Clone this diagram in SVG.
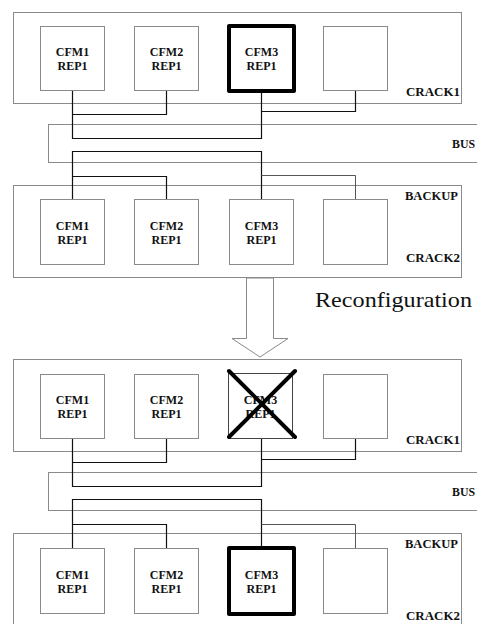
<svg xmlns="http://www.w3.org/2000/svg" width="477" height="624" viewBox="0 0 477 624">
<style>
.box{fill:#fff;stroke:#8a8a8a;stroke-width:1}
.rack{fill:none;stroke:#8a8a8a;stroke-width:1}
.thick{fill:#fff;stroke:#000;stroke-width:4;stroke-linejoin:round}
.t{font-family:"Liberation Serif",serif;font-weight:bold;font-size:12px;fill:#111;text-anchor:middle}
.lbl{font-family:"Liberation Serif",serif;font-weight:bold;font-size:12px;fill:#111}
.c{fill:none;stroke:#111;stroke-width:1.2}
.cg{fill:none;stroke:#555;stroke-width:1}
.x{stroke:#000;stroke-width:4;stroke-linecap:round}
</style>
<rect width="477" height="624" fill="#fff"/>

<!-- ===== Top configuration ===== -->
<g id="crack1-top">
  <rect class="rack" x="13.5" y="12.5" width="448" height="91"/>
  <text class="lbl" x="406" y="96" textLength="54" lengthAdjust="spacingAndGlyphs">CRACK1</text>
</g>
<g id="bus-top">
  <rect class="rack" x="48.5" y="124.5" width="440" height="38"/>
  <text class="lbl" x="452" y="148" textLength="23" lengthAdjust="spacingAndGlyphs">BUS</text>
</g>
<g id="crack2-top">
  <rect class="rack" x="13.5" y="185.5" width="448" height="92"/>
  <text class="lbl" x="405" y="200" textLength="53" lengthAdjust="spacingAndGlyphs">BACKUP</text>
  <text class="lbl" x="406" y="262" textLength="54" lengthAdjust="spacingAndGlyphs">CRACK2</text>
</g>

<g id="connectors-top">
  <path class="c" d="M72.5 91 V138.5 H261.5 V93"/>
  <path class="c" d="M72.5 114.5 H166.5 V91"/>
  <path class="c" d="M261.5 111.5 H355.5 V91"/>
  <path class="c" d="M72.5 199 V151.5 H261.5 V199"/>
  <path class="c" d="M72.5 176.5 H166.5 V199"/>
  <path class="cg" d="M261.5 175.5 H355.5 V199"/>
</g>

<g id="t-c1-cfm1"><rect class="box" x="40.5" y="26.5" width="64" height="64"/><text class="t" x="72.5" y="56">CFM1</text><text class="t" x="72.5" y="69.5">REP1</text></g>
<g id="t-c1-cfm2"><rect class="box" x="134.5" y="26.5" width="64" height="64"/><text class="t" x="166.5" y="56">CFM2</text><text class="t" x="166.5" y="69.5">REP1</text></g>
<g id="t-c1-cfm3"><rect class="thick" x="229" y="26" width="65" height="65"/><text class="t" x="261.5" y="56">CFM3</text><text class="t" x="261.5" y="69.5">REP1</text></g>
<g id="t-c1-empty"><rect class="box" x="323.5" y="26.5" width="64" height="64"/></g>

<g id="t-c2-cfm1"><rect class="box" x="40.5" y="199.5" width="64" height="65"/><text class="t" x="72.5" y="230">CFM1</text><text class="t" x="72.5" y="243.5">REP1</text></g>
<g id="t-c2-cfm2"><rect class="box" x="134.5" y="199.5" width="64" height="65"/><text class="t" x="166.5" y="230">CFM2</text><text class="t" x="166.5" y="243.5">REP1</text></g>
<g id="t-c2-cfm3"><rect class="box" x="229.5" y="199.5" width="64" height="65"/><text class="t" x="261.5" y="230">CFM3</text><text class="t" x="261.5" y="243.5">REP1</text></g>
<g id="t-c2-empty"><rect class="box" x="323.5" y="199.5" width="64" height="65"/></g>

<!-- ===== Arrow ===== -->
<g id="arrow">
  <polygon points="246.5,278 273.5,278 273.5,338.5 288,338.5 260,357 232,338.5 246.5,338.5" fill="#fff" stroke="#8a8a8a" stroke-width="1"/>
  <text x="315" y="307" font-family="'Liberation Serif',serif" font-size="21" fill="#111" textLength="157" lengthAdjust="spacingAndGlyphs">Reconfiguration</text>
</g>

<!-- ===== Bottom configuration ===== -->
<g id="crack1-bottom">
  <rect class="rack" x="13.5" y="359.5" width="448" height="92"/>
  <text class="lbl" x="406" y="444" textLength="54" lengthAdjust="spacingAndGlyphs">CRACK1</text>
</g>
<g id="bus-bottom">
  <rect class="rack" x="48.5" y="472.5" width="440" height="38"/>
  <text class="lbl" x="452" y="496" textLength="23" lengthAdjust="spacingAndGlyphs">BUS</text>
</g>
<g id="crack2-bottom">
  <rect class="rack" x="13.5" y="533.5" width="448" height="92"/>
  <text class="lbl" x="405" y="548" textLength="53" lengthAdjust="spacingAndGlyphs">BACKUP</text>
  <text class="lbl" x="406" y="620" textLength="54" lengthAdjust="spacingAndGlyphs">CRACK2</text>
</g>

<g id="connectors-bottom">
  <path class="c" d="M72.5 439 V486.5 H261.5 V439"/>
  <path class="c" d="M72.5 462.5 H166.5 V439"/>
  <path class="c" d="M261.5 459.5 H355.5 V439"/>
  <path class="c" d="M72.5 548 V499.5 H261.5 V546"/>
  <path class="c" d="M72.5 524.5 H166.5 V548"/>
  <path class="cg" d="M261.5 524.5 H355.5 V548"/>
</g>

<g id="b-c1-cfm1"><rect class="box" x="40.5" y="374.5" width="64" height="64"/><text class="t" x="72.5" y="404">CFM1</text><text class="t" x="72.5" y="417.5">REP1</text></g>
<g id="b-c1-cfm2"><rect class="box" x="134.5" y="374.5" width="64" height="64"/><text class="t" x="166.5" y="404">CFM2</text><text class="t" x="166.5" y="417.5">REP1</text></g>
<g id="b-c1-cfm3">
  <rect x="228.5" y="373.5" width="64" height="65" fill="#fff" stroke="#444" stroke-width="1"/>
  <text class="t" x="260.5" y="404">CFM3</text><text class="t" x="260.5" y="417.5">REP1</text>
  <line class="x" x1="229" y1="371" x2="295" y2="437"/>
  <line class="x" x1="295" y1="371" x2="229" y2="437"/>
</g>
<g id="b-c1-empty"><rect class="box" x="323.5" y="374.5" width="64" height="64"/></g>

<g id="b-c2-cfm1"><rect class="box" x="40.5" y="548.5" width="64" height="65"/><text class="t" x="72.5" y="579">CFM1</text><text class="t" x="72.5" y="592.5">REP1</text></g>
<g id="b-c2-cfm2"><rect class="box" x="134.5" y="548.5" width="64" height="65"/><text class="t" x="166.5" y="579">CFM2</text><text class="t" x="166.5" y="592.5">REP1</text></g>
<g id="b-c2-cfm3"><rect class="thick" x="229" y="548" width="65" height="66"/><text class="t" x="261.5" y="579">CFM3</text><text class="t" x="261.5" y="592.5">REP1</text></g>
<g id="b-c2-empty"><rect class="box" x="323.5" y="548.5" width="64" height="65"/></g>
</svg>
